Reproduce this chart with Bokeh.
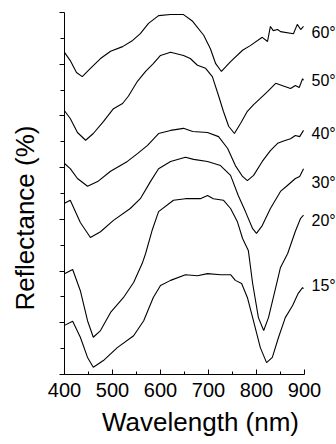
from bokeh.plotting import figure
from bokeh.models import FixedTicker, Title, CustomLabelingPolicy
from bokeh.embed import file_html
from bokeh.resources import INLINE

# ---- data (wavelength in nm, reflectance offset curves, a.u.) ----
wl_60 = [400, 412, 425, 437, 454, 475, 496, 521, 542, 558, 575, 596, 621, 648, 667, 690, 704, 715,
         727, 746, 771, 787, 812, 823, 829, 835, 844, 850, 877, 885, 892, 898]
r_60 = [62.3, 60.7, 58.4, 57.6, 59.2, 61.1, 62.5, 63.4, 64.6, 65.9, 67.9, 69.4, 69.6, 69.6, 68.3,
        65.6, 63.0, 60.1, 58.6, 60.5, 62.7, 63.6, 65.2, 64.4, 67.3, 66.5, 66.7, 66.3, 65.9, 67.7,
        66.7, 67.3]

wl_50 = [400, 412, 427, 444, 460, 481, 502, 521, 533, 552, 569, 585, 600, 621, 648, 662, 677,
         694, 708, 721, 731, 742, 754, 767, 781, 794, 808, 823, 840, 856, 871, 881, 889, 896, 898]
r_50 = [51.0, 49.5, 46.8, 45.3, 46.6, 48.9, 51.4, 52.4, 53.8, 56.7, 58.6, 60.1, 61.7, 62.3, 61.7,
        61.1, 59.8, 59.2, 57.6, 53.9, 50.9, 48.0, 46.6, 48.6, 50.9, 52.2, 53.4, 54.7, 56.3, 55.8,
        55.3, 55.9, 55.5, 57.2, 56.9]

wl_40 = [400, 412, 427, 448, 469, 496, 531, 552, 573, 596, 621, 648, 667, 698, 721, 740, 756,
         771, 781, 794, 812, 829, 844, 858, 871, 881, 890, 898]
r_40 = [40.8, 39.8, 37.9, 36.4, 37.3, 39.3, 41.2, 42.7, 44.3, 46.6, 47.2, 47.6, 47.0, 46.8, 46.0,
        43.7, 40.4, 38.3, 37.5, 38.5, 41.2, 43.3, 44.7, 45.2, 45.6, 46.2, 46.0, 47.2]

wl_30 = [400, 412, 433, 454, 475, 502, 537, 558, 579, 596, 621, 652, 669, 698, 725, 746, 762,
         777, 792, 800, 812, 829, 850, 865, 881, 890, 898]
r_30 = [33.1, 33.7, 29.4, 26.5, 27.6, 29.8, 32.1, 34.0, 37.3, 39.8, 41.2, 42.0, 41.6, 41.2, 40.4,
        38.5, 34.6, 31.5, 28.2, 27.3, 28.8, 32.1, 35.4, 36.6, 37.9, 38.3, 39.8]

wl_20 = [400, 417, 433, 448, 460, 475, 496, 523, 544, 562, 569, 583, 596, 627, 652, 683, 698, 710,
         731, 746, 760, 771, 783, 792, 804, 815, 825, 840, 850, 865, 881, 892, 898]
r_20 = [19.5, 20.3, 16.2, 10.4, 7.2, 8.5, 12.0, 14.9, 17.8, 21.5, 23.4, 28.0, 31.5, 33.7, 34.0,
        34.0, 34.6, 34.0, 33.7, 32.1, 29.6, 26.3, 24.0, 17.6, 11.0, 8.5, 11.0, 16.8, 20.7, 23.4,
        27.7, 30.2, 30.8]

wl_15 = [400, 417, 433, 448, 460, 481, 510, 544, 565, 585, 600, 621, 652, 677, 698, 725, 746, 756,
         769, 781, 792, 808, 821, 833, 846, 860, 875, 887, 896, 898]
r_15 = [9.5, 10.3, 7.2, 3.3, 1.4, 2.7, 5.2, 7.5, 10.4, 14.9, 17.2, 18.2, 19.3, 19.1, 19.5, 19.3,
        19.3, 18.2, 17.6, 14.9, 11.0, 5.2, 2.3, 3.3, 7.2, 11.0, 13.3, 15.7, 16.8, 16.6]

curves_wl = [wl_60, wl_50, wl_40, wl_30, wl_20, wl_15]
curves_r = [r_60, r_50, r_40, r_30, r_20, r_15]
angle_labels = ["60°", "50°", "40°", "30°", "20°", "15°"]
label_y = [66.1, 56.9, 46.6, 37.1, 29.8, 17.2]

x_ticks = [400, 500, 600, 700, 800, 900]
x_minor = [450, 550, 650, 750, 850]
y_ticks = [0, 10, 20, 30, 40, 50, 60, 70]
y_minor = [5, 15, 25, 35, 45, 55, 65]

FONT = "Liberation Sans"

# frame extends to the right edge so the angle labels sit inside it; axis line bounded at 900
p = figure(width=336, height=444, x_range=(400, 966.7), y_range=(0, 70),
           output_backend="svg", toolbar_location=None,
           min_border_left=64, min_border_right=0, min_border_top=12, min_border_bottom=70)
p.outline_line_color = None
p.grid.visible = False
p.background_fill_color = "white"
p.border_fill_color = "white"

for wl, r in zip(curves_wl, curves_r):
    p.line(wl, r, line_color="black", line_width=1.1)

p.text(x=[914.6] * len(angle_labels), y=label_y, text=angle_labels,
       text_font={"value": FONT}, text_font_size={"value": "16px"},
       text_baseline="middle", text_align="left", text_color="black")

xa = p.xaxis[0]
xa.bounds = (400, 900)
xa.ticker = FixedTicker(ticks=x_ticks, minor_ticks=x_minor)
xa.major_tick_in = 5
xa.major_tick_out = 0
xa.minor_tick_in = 3
xa.minor_tick_out = 0
xa.major_label_text_font = FONT
xa.major_label_text_font_size = "20px"
xa.major_label_text_color = "black"
xa.major_label_standoff = 8
xa.axis_label = "Wavelength (nm)"
xa.axis_label_text_font = FONT
xa.axis_label_text_font_size = "26px"
xa.axis_label_text_font_style = "normal"
xa.axis_label_text_color = "black"
xa.axis_label_standoff = 7
xa.axis_line_color = "black"
xa.major_tick_line_color = "black"
xa.minor_tick_line_color = "black"

ya = p.yaxis[0]
ya.ticker = FixedTicker(ticks=y_ticks, minor_ticks=y_minor)
ya.major_tick_in = 0
ya.major_tick_out = 5
ya.minor_tick_in = 0
ya.minor_tick_out = 4
ya.major_label_policy = CustomLabelingPolicy(code="return []")
ya.major_label_standoff = 0
ya.axis_line_color = "black"
ya.major_tick_line_color = "black"
ya.minor_tick_line_color = "black"

ytitle = Title(text="Reflectance (%)", align="left", offset=64, standoff=10,
               text_font=FONT, text_font_size="26px", text_font_style="normal",
               text_color="black")
p.add_layout(ytitle, "left")

open("out.html", "w").write(file_html(p, INLINE))
